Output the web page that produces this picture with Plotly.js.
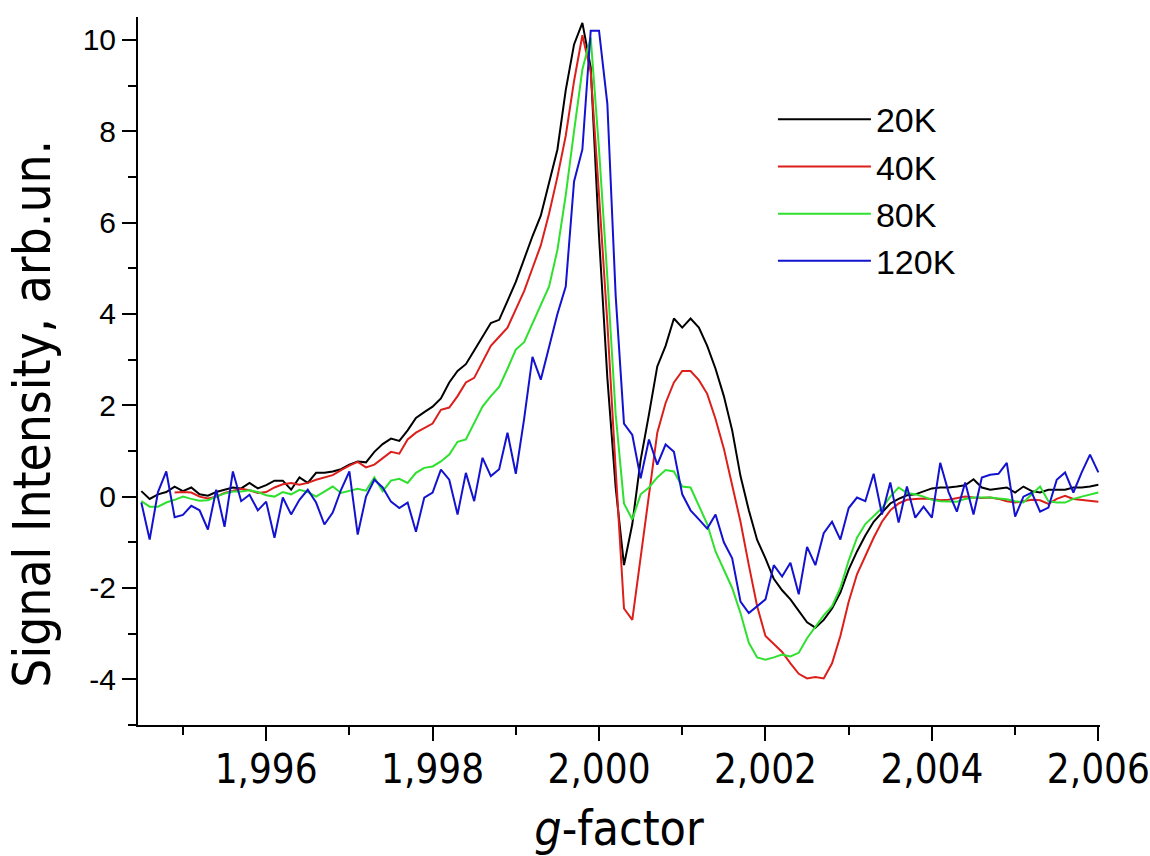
<!DOCTYPE html>
<html>
<head>
<meta charset="utf-8">
<script src="https://cdn.plot.ly/plotly-3.0.1.min.js"></script>
<style>
  html, body { margin: 0; padding: 0; background: #ffffff; }
  #chart { width: 1150px; height: 856px; }
</style>
</head>
<body>
<div id="chart"></div>
<script>
// g-factor grid: first point and step (uniform field sweep)
const gStart = 1.9945;
const gStep = 0.0001;
const redStart = 1.9949;

const seriesNames = ['20K', '40K', '80K', '120K'];
const seriesColors = ['#000000', '#dc1f1b', '#2fe02f', '#1212d0'];

const k20 = [0.12,-0.05,0.05,0.1,0.22,0.12,0.2,0.05,0.02,0.1,
  0.15,0.2,0.18,0.3,0.18,0.25,0.35,0.35,0.15,0.42,
  0.3,0.52,0.52,0.55,0.6,0.7,0.77,0.75,0.98,1.15,
  1.27,1.22,1.45,1.72,1.85,1.97,2.15,2.5,2.75,2.9,
  3.2,3.5,3.8,3.87,4.3,4.7,5.2,5.7,6.15,6.9,
  7.6,8.9,9.9,10.37,9.4,5.7,2.6,0.2,-1.5,-0.6,
  0.8,1.8,2.85,3.3,3.9,3.7,3.9,3.7,3.3,2.8,
  2.2,1.45,0.45,-0.3,-0.95,-1.35,-1.8,-2.05,-2.25,-2.5,
  -2.75,-2.87,-2.7,-2.45,-2.1,-1.6,-1.2,-0.85,-0.55,-0.35,
  -0.15,-0.05,0.03,0.05,0.12,0.18,0.2,0.2,0.22,0.25,
  0.38,0.2,0.15,0.17,0.2,0.09,0.22,0.12,0.09,0.15,
  0.15,0.15,0.2,0.2,0.22,0.26];

const k40 = [0.09,0.1,0.09,0.0,-0.04,0.0,
  0.08,0.12,0.17,0.14,0.08,0.1,0.2,0.27,0.3,0.26,
  0.3,0.37,0.42,0.47,0.58,0.68,0.76,0.64,0.7,0.85,
  0.98,0.94,1.25,1.4,1.5,1.6,1.9,1.95,2.2,2.5,
  2.6,2.95,3.3,3.5,3.7,4.1,4.5,5.0,5.5,6.2,
  7.0,7.9,9.1,10.1,9.3,6.6,3.8,0.6,-2.45,-2.7,
  -1.3,0.0,1.4,2.05,2.5,2.75,2.75,2.55,2.25,1.7,
  1.05,0.25,-0.55,-1.5,-2.4,-3.05,-3.22,-3.4,-3.65,-3.88,
  -3.98,-3.95,-3.98,-3.65,-3.05,-2.3,-1.7,-1.3,-0.9,-0.55,
  -0.3,-0.15,-0.07,-0.05,-0.04,-0.05,-0.08,-0.07,-0.04,0.0,
  -0.02,-0.03,-0.02,-0.05,-0.1,-0.13,-0.1,-0.07,-0.08,-0.16,
  -0.05,0.02,-0.05,-0.07,-0.08,-0.11];

const k80 = [-0.1,-0.22,-0.22,-0.13,-0.07,0.0,-0.05,-0.09,-0.08,0.0,
  0.07,0.11,0.11,0.14,0.1,0.03,0.0,0.1,0.05,0.15,
  0.1,0.0,0.11,0.22,0.08,0.13,0.17,0.13,0.42,0.12,
  0.35,0.39,0.3,0.52,0.63,0.66,0.77,0.92,1.2,1.25,
  1.6,1.97,2.2,2.4,2.8,3.22,3.38,3.8,4.2,4.6,
  5.4,6.6,8.0,9.35,10.05,7.6,4.8,1.8,-0.15,-0.5,
  0.05,0.2,0.42,0.58,0.55,0.22,0.2,-0.2,-0.6,-1.2,
  -1.6,-2.0,-2.55,-3.2,-3.52,-3.57,-3.52,-3.46,-3.5,-3.42,
  -3.1,-2.85,-2.6,-2.4,-2.0,-1.4,-0.9,-0.6,-0.42,-0.25,
  0.0,0.2,0.08,0.05,0.0,-0.07,-0.1,-0.11,-0.11,-0.05,
  -0.02,-0.02,-0.02,-0.04,-0.06,-0.1,-0.13,0.05,0.22,-0.1,
  -0.13,-0.13,-0.05,0.0,0.05,0.09];

const k120 = [-0.13,-0.94,0.1,0.55,-0.45,-0.4,-0.2,-0.3,-0.72,0.15,
  -0.66,0.55,-0.1,0.04,-0.3,-0.11,-0.9,-0.02,-0.39,-0.07,
  0.15,-0.13,-0.61,-0.35,0.15,0.55,-0.83,0.0,0.37,0.2,
  -0.11,-0.25,-0.13,-0.77,-0.02,0.09,0.59,0.37,-0.39,0.52,
  -0.1,0.85,0.45,0.6,1.4,0.5,1.7,3.06,2.56,3.3,
  4.0,4.6,6.9,7.6,10.2,10.2,8.6,4.4,1.6,1.35,
  0.4,1.25,0.7,1.14,0.98,0.05,-0.3,-0.5,-0.7,-0.39,
  -1.0,-1.35,-2.3,-2.55,-2.4,-2.25,-1.5,-1.75,-1.45,-2.14,
  -1.1,-1.5,-0.8,-0.55,-0.94,-0.25,-0.02,-0.1,0.5,-0.39,
  0.31,-0.57,0.22,-0.46,-0.22,-0.46,0.74,0.1,-0.33,0.31,
  -0.39,0.42,0.48,0.5,0.74,-0.44,0.0,0.09,-0.33,-0.24,
  0.37,0.53,0.09,0.53,0.92,0.53];

const xTickVals = [1.996, 1.998, 2.000, 2.002, 2.004, 2.006];
const xTickText = ['1,996', '1,998', '2,000', '2,002', '2,004', '2,006'];
const yTickVals = [-4, -2, 0, 2, 4, 6, 8, 10];
const yTickText = ['-4', '-2', '0', '2', '4', '6', '8', '10'];

const seriesY = [k20, k40, k80, k120];
const seriesX0 = [gStart, redStart, gStart, gStart];

const traces = seriesY.map((ys, k) => ({
  type: 'scatter',
  mode: 'lines',
  name: seriesNames[k],
  x0: seriesX0[k],
  dx: gStep,
  y: ys,
  line: { color: seriesColors[k], width: 2 },
  hoverinfo: 'skip'
}));

const narrow = '"Liberation Sans Narrow", "Arial Narrow", "DejaVu Sans Condensed", "Liberation Sans", Arial, sans-serif';
const sans = '"Liberation Sans", Arial, sans-serif';

const layout = {
  width: 1150,
  height: 856,
  margin: { l: 138, r: 50, t: 17, b: 131 },
  paper_bgcolor: '#ffffff',
  plot_bgcolor: '#ffffff',
  showlegend: true,
  legend: {
    x: 0.66, y: 0.896, xanchor: 'left', yanchor: 'top',
    font: { family: sans, size: 34, color: '#000000' },
    bgcolor: 'rgba(0,0,0,0)',
    itemwidth: 93,
    tracegroupgap: 0
  },
  xaxis: {
    range: [1.99446, 2.00602],
    showgrid: false, zeroline: false,
    showline: true, linecolor: '#000000', linewidth: 2,
    ticks: 'outside', ticklen: 14, tickwidth: 2, tickcolor: '#000000',
    tickmode: 'array', tickvals: xTickVals, ticktext: xTickText,
    ticklabelstandoff: -6,
    tickfont: { family: narrow, size: 40, color: '#000000' },
    minor: { tick0: 1.995, dtick: 0.002, ticks: 'outside', ticklen: 8, tickwidth: 2, tickcolor: '#000000', showgrid: false },
    title: { text: '<i>g</i>-factor', font: { family: narrow, size: 48, color: '#000000' }, standoff: 24 }
  },
  yaxis: {
    range: [-5, 10.5],
    showgrid: false, zeroline: false,
    showline: true, linecolor: '#000000', linewidth: 2,
    ticks: 'outside', ticklen: 14, tickwidth: 2, tickcolor: '#000000',
    tickmode: 'array', tickvals: yTickVals, ticktext: yTickText,
    tickfont: { family: sans, size: 30, color: '#000000' },
    minor: { tick0: -5, dtick: 2, ticks: 'outside', ticklen: 8, tickwidth: 2, tickcolor: '#000000', showgrid: false }
  },
  annotations: [{
    text: 'Signal Intensity, arb.un.',
    xref: 'paper', yref: 'paper',
    x: -0.110, y: 0.44, xanchor: 'center', yanchor: 'middle',
    textangle: -90, showarrow: false,
    font: { family: narrow, size: 51, color: '#000000' }
  }]
};

Plotly.newPlot('chart', traces, layout, { displayModeBar: false, staticPlot: true });
</script>
</body>
</html>
